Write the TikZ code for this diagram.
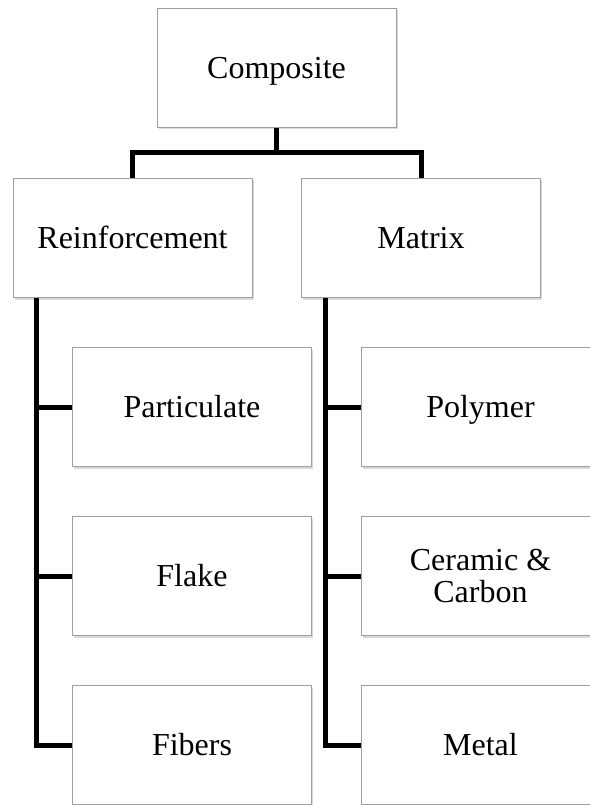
\documentclass[tikz,border=0pt]{standalone}
\usepackage{fontspec}
\setmainfont{Liberation Serif}
\usetikzlibrary{shadows}

\begin{document}
\begin{tikzpicture}[x=1pt,y=-1pt,
    boxbase/.style={draw=gray!75, line width=0.9pt, fill=white, minimum width=239pt, minimum height=119pt,
        inner sep=0pt, align=center, font=\fontsize{32}{32}\selectfont,
        drop shadow={shadow xshift=1.6pt, shadow yshift=-2pt, opacity=0.3}},
    box/.style={boxbase, text height=21pt, text depth=0pt},
    link/.style={line width=5pt, line join=miter}]
    \useasboundingbox (0,0) rectangle (589,805);

    %draw boxes
        \node[box] (comp) at (276.5,68) {Composite};
        \node[box] (reinf) at (132.5,238) {Reinforcement};
        \node[box] (matrix) at (421,238) {Matrix};

        \node[box] (part) at (192,407) {Particulate};
        \node[box] (flake) at (192,576) {Flake};
        \node[box] (fibers) at (192,745) {Fibers};

        \node[box] (poly) at (480.5,407) {Polymer};
        \node[boxbase] (ceram) at (480.5,576) {Ceramic \&\\Carbon};
        \node[box] (metal) at (480.5,745) {Metal};

    %top level links
        \coordinate (bar) at (comp.south |- 0,153);
        \draw[link] (comp.south) -- (bar);
        \draw[link] (reinf.north) |- (bar) -| (matrix.north);

    %trunks down the left of each column
        \coordinate (rt) at ([xshift=-96pt]reinf.south);
        \coordinate (mt) at ([xshift=-96pt]matrix.south);
        \draw[link] (rt) |- (fibers.west);
        \draw[link] (rt |- part.west) -- (part.west);
        \draw[link] (rt |- flake.west) -- (flake.west);
        \draw[link] (mt) |- (metal.west);
        \draw[link] (mt |- poly.west) -- (poly.west);
        \draw[link] (mt |- ceram.west) -- (ceram.west);

\end{tikzpicture}
\end{document}
